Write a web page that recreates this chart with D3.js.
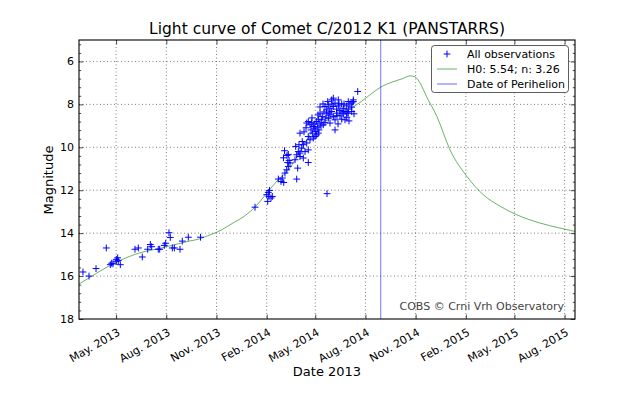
<!DOCTYPE html>
<html><head><meta charset="utf-8">
<script src="https://cdn.jsdelivr.net/npm/d3@7"></script>
<style>
body{margin:0;background:#fff}
svg{display:block}
text{font-family:"DejaVu Sans",sans-serif;fill:#000}
</style>
</head><body>
<svg id="chart" width="640" height="400"></svg>
<script>
// ---- data (days counted from 2013-01-01, magnitudes) ----
const obsDay = [59.3,70.3,83.2,102,109.4,111.9,114.3,120.4,122.9,124,120.4,127.7,154.6,160.7,168,177.9,182.7,185.2,197.3,199.9,208.3,210.9,216.9,219.3,223,226.7,237.1,241.3,252.3,274.7,
374.6,396,398.9,400.2,397.8,403.9,406.3,401.1,
417.3,424.6,427.2,422.2,429.5,432.7,435.6,434.5,438.7,437,433.2,435.6,428.6,426.8,
451,452.8,447.9,451,453.9,457,449.1,455.2,460.1,457,463.1,472.2,469.3,466.2,472.2,457,461.2,463.1,
469.3,472.2,475.4,478.5,481.4,484.5,487.6,490.6,493.7,477.2,479.6,483.2,485.8,489.5,491.8,495.5,472.2,475.4,481.4,484.5,487.6,490.6,496.8,497.9,493.7,499.7,502.8,
502.8,506,508.9,512,515.1,518.1,521.2,524.3,527.2,530.3,533.5,536.4,539.5,542.6,545.5,548.7,551.8,554.7,506,512,518.1,524.3,530.3,536.4,542.6,545.5,551.8,508.9,521.2,533.5,515.1,518.1,527.2,545.5,554.7,521.2,512,539.5,507.8,506.5,562.8,
499.2,501,510.2,515.7,524.8,528.5,534,537.7,543.2,552.3,556,546.8,526.7,504.4,493.7,490,479,468,464.4];
const obsMag = [15.81,16.0,15.65,14.69,15.47,15.40,15.43,15.22,15.15,15.28,15.31,15.47,14.75,14.69,15.11,14.75,14.53,14.63,14.75,14.75,14.57,14.47,13.98,14.20,14.69,14.69,14.75,14.37,14.19,14.19,
12.79,12.21,12.10,12.29,12.52,12.36,12.29,12.01,
11.48,11.43,11.64,11.59,11.20,11.05,10.89,10.71,10.73,10.61,10.38,10.33,10.16,10.49,
11.48,10.97,10.58,10.35,10.20,10.27,9.96,9.88,10.04,10.43,10.50,10.71,9.80,10.20,10.12,9.34,9.73,9.88,
8.87,8.80,8.95,8.85,9.03,8.91,8.80,8.69,8.87,9.19,9.34,9.11,9.26,9.06,9.19,9.00,9.50,9.65,9.57,9.50,9.42,9.34,8.72,8.57,8.41,8.95,8.85,
8.10,8.26,8.02,8.18,8.33,8.10,7.94,8.22,8.07,8.29,7.98,8.18,8.33,8.07,8.22,7.98,8.13,7.87,8.41,8.49,8.57,8.41,8.53,8.44,8.60,8.41,8.33,8.64,8.72,8.69,7.79,7.71,7.79,7.87,7.79,9.19,8.87,8.72,7.87,12.16,7.40,
7.98,8.35,8.40,7.98,8.53,7.98,8.35,7.98,8.40,7.93,8.44,8.77,8.91,8.63,8.12,8.49,8.63,9.09,9.28];

const modelDay = [52,70,89,107,125,144,162,180,199,217,235,254,274,288,305,334,356,375,396,417,436,448,466,484,508,539,567,585,604,627,644,659,668,677,689,708,732,763,793,824,854,897,933,961];
const modelMag = [16.37,16.09,15.79,15.53,15.30,15.09,14.93,14.81,14.72,14.60,14.49,14.37,14.26,14.12,13.95,13.53,13.19,12.77,12.14,11.51,11.05,10.60,9.80,9.12,8.72,8.33,7.91,7.56,7.21,6.95,6.81,6.67,6.72,7.00,7.64,8.57,10.12,11.36,12.21,12.75,13.14,13.53,13.76,13.92];

const perihelionDay = 605;
const xDomainDays = [52, 961];
const yDomain = [5, 18];
const xTickDates = ["2013-05-01","2013-08-01","2013-11-01","2014-02-01","2014-05-01","2014-08-01","2014-11-01","2015-02-01","2015-05-01","2015-08-01"];
const yTicks = [6,8,10,12,14,16,18];
const yMinorTicks = [5.2,5.6,6.4,6.8,7.2,7.6,8.4,8.8,9.2,9.6,10.4,10.8,11.2,11.6,12.4,12.8,13.2,13.6,14.4,14.8,15.2,15.6,16.4,16.8,17.2,17.6];
const legendLabels = ["All observations","H0: 5.54; n: 3.26","Date of Perihelion"];
const titleText = "Light curve of Comet C/2012 K1 (PANSTARRS)";
const creditText = "COBS \u00a9 Crni Vrh Observatory";

// ---- drawing ----
const epoch = Date.UTC(2013,0,1);
const dayToDate = d => new Date(epoch + d*86400000);
const L = 79, R = 575, T = 40, B = 319;
const svg = d3.select("#chart");
svg.append("rect").attr("width",640).attr("height",400).attr("fill","#fff");

const x = d3.scaleUtc().domain(xDomainDays.map(dayToDate)).range([L,R]);
const y = d3.scaleLinear().domain(yDomain).range([T,B]);
const tickDates = xTickDates.map(s => new Date(s+"T00:00:00Z"));

// grid
const grid = svg.append("g").attr("stroke","#000").attr("stroke-width",0.6).attr("stroke-dasharray","1,2.5").attr("opacity",0.85);
tickDates.forEach(d => grid.append("line").attr("x1",x(d)).attr("x2",x(d)).attr("y1",T).attr("y2",B));
yTicks.filter(v => v < yDomain[1]).forEach(v => grid.append("line").attr("x1",L).attr("x2",R).attr("y1",y(v)).attr("y2",y(v)));

svg.append("defs").append("clipPath").attr("id","clip").append("rect").attr("x",L).attr("y",T).attr("width",R-L).attr("height",B-T);
const plot = svg.append("g").attr("clip-path","url(#clip)");

// model curve
const line = d3.line().x((d,i)=>x(dayToDate(modelDay[i]))).y((d,i)=>y(modelMag[i])).curve(d3.curveMonotoneX);
plot.append("path").datum(modelDay).attr("d",line).attr("fill","none").attr("stroke","#008000").attr("stroke-width",0.6);

// perihelion
plot.append("line").attr("x1",x(dayToDate(perihelionDay))).attr("x2",x(dayToDate(perihelionDay)))
  .attr("y1",T).attr("y2",B).attr("stroke","#0000ff").attr("stroke-width",0.55);

// observations
const plus = "M-3.4,0H3.4M0,-3.4V3.4";
plot.append("g").selectAll("path").data(obsDay).join("path")
  .attr("transform",(d,i)=>`translate(${x(dayToDate(d))},${y(obsMag[i])})`)
  .attr("d",plus).attr("stroke","#0000ff").attr("stroke-width",1).attr("fill","none");

// axes
const fmt = d3.utcFormat("%b. %Y");
const gB = svg.append("g").attr("transform",`translate(0,${B})`)
  .call(d3.axisBottom(x).tickValues(tickDates).tickFormat(fmt).tickSizeInner(-4.4).tickSizeOuter(0));
gB.selectAll("text").attr("y",null).attr("dy","0.78em").attr("text-anchor","end")
  .attr("transform","translate(0,8) rotate(-30)");
svg.append("g").attr("transform",`translate(0,${T})`)
  .call(d3.axisTop(x).tickValues(tickDates).tickFormat("").tickSizeInner(-4.4).tickSizeOuter(0));
svg.append("g").attr("transform",`translate(${L},0)`)
  .call(d3.axisLeft(y).tickValues(yTicks).tickSizeInner(-4.4).tickSizeOuter(0).tickPadding(5));
svg.append("g").attr("transform",`translate(${L},0)`)
  .call(d3.axisLeft(y).tickValues(yMinorTicks).tickFormat("").tickSizeInner(-2.2).tickSizeOuter(0));
svg.append("g").attr("transform",`translate(${R},0)`)
  .call(d3.axisRight(y).tickValues(yTicks).tickFormat("").tickSizeInner(-4.4).tickSizeOuter(0));
svg.append("g").attr("transform",`translate(${R},0)`)
  .call(d3.axisRight(y).tickValues(yMinorTicks).tickFormat("").tickSizeInner(-2.2).tickSizeOuter(0));
svg.selectAll(".domain").remove();
svg.selectAll(".tick line").attr("stroke","#000").attr("stroke-width",0.7);
svg.selectAll(".tick text").attr("font-size",11).attr("font-family","DejaVu Sans").attr("fill","#000");

// frame
svg.append("rect").attr("x",L).attr("y",T).attr("width",R-L).attr("height",B-T)
  .attr("fill","none").attr("stroke","#000").attr("stroke-width",1.1);

// credit
svg.append("text").attr("x",564).attr("y",310).attr("text-anchor","end")
  .attr("font-size",11).style("fill","#444").text(creditText);

// legend
const lg = svg.append("g");
lg.append("rect").attr("x",431.5).attr("y",45.5).attr("width",137).attr("height",47).attr("rx",3)
  .attr("fill","#fff").attr("stroke","#333").attr("stroke-width",0.8);
const rowY = [54,69,84];
lg.append("path").attr("transform",`translate(447,${rowY[0]})`).attr("d",plus).attr("stroke","#0000ff").attr("stroke-width",1);
lg.append("line").attr("x1",437).attr("x2",457).attr("y1",rowY[1]).attr("y2",rowY[1]).attr("stroke","#008000").attr("stroke-width",0.6);
lg.append("line").attr("x1",437).attr("x2",457).attr("y1",rowY[2]).attr("y2",rowY[2]).attr("stroke","#0000ff").attr("stroke-width",0.6);
legendLabels.forEach((t,i)=> lg.append("text").attr("x",467).attr("y",rowY[i]).attr("dy","0.36em").attr("font-size",11).text(t));

// titles
svg.append("text").attr("x",(L+R)/2).attr("y",34).attr("text-anchor","middle").attr("font-size",15.5).text(titleText);
svg.append("text").attr("x",(L+R)/2).attr("y",376).attr("text-anchor","middle").attr("font-size",13).text("Date 2013");
svg.append("text").attr("transform","translate(53,180) rotate(-90)").attr("text-anchor","middle").attr("font-size",13).text("Magnitude");
</script>
</body></html>
